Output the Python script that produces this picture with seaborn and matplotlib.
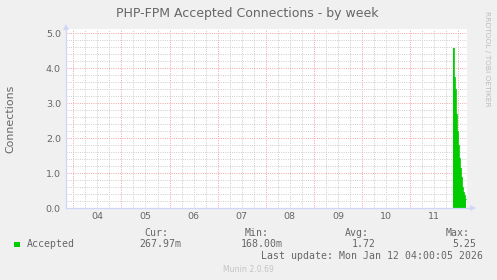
import matplotlib
matplotlib.use("Agg")
import matplotlib.pyplot as plt
import matplotlib.patches as mpatches
from matplotlib.ticker import MultipleLocator, NullFormatter
import seaborn as sns
import pandas as pd

# ---- data (hours since Mon Jan 4 00:00, 30-min samples) ----
hours = [189.5, 190.0, 190.5, 191.0, 191.5, 192.0, 192.5, 193.0, 193.5, 194.0, 194.5, 195.0, 195.5, 196.0]
accepted = [4.57, 3.75, 3.4, 2.7, 2.2, 1.8, 1.45, 1.15, 0.9, 0.62, 0.47, 0.38, 0.27, 0.27]
day_labels = ["04", "05", "06", "07", "08", "09", "10", "11"]
day_label_hours = [12, 36, 60, 84, 108, 132, 156, 180]
stat_names = ["Cur:", "Min:", "Avg:", "Max:"]
stat_values = ["267.97m", "168.00m", "1.72", "5.25"]
series_name = "Accepted"
title = "PHP-FPM Accepted Connections - by week"
ylabel = "Connections"
last_update = "Last update: Mon Jan 12 04:00:05 2026"
footer = "Munin 2.0.69"
side_text = "RRDTOOL / TOBI OETIKER"

BACK = "#F0F0F0"
FONT = "#666666"
AXIS = "#CFD6F8"
GREEN = "#00CC00"
MGRID = "#F2A4A4"
GRID = "#CDCDCD"

sns.set_style("white")
plt.rcParams["font.family"] = ["DejaVu Sans"]

W, H = 497, 280
fig = plt.figure(figsize=(W / 100, H / 100), dpi=100, facecolor=BACK)
L, R, T, B = 66, 467.3, 29.3, 208.3
ax = fig.add_axes([L / W, 1 - B / H, (R - L) / W, (B - T) / H])
ax.set_facecolor("white")

df = pd.DataFrame({"hours": hours, "accepted": accepted})
ax.fill_between(df["hours"], 0, df["accepted"], step="post", color=GREEN, linewidth=0, zorder=3)
sns.lineplot(data=df, x="hours", y="accepted", drawstyle="steps-post", color=GREEN,
             linewidth=0.6, ax=ax, zorder=3, legend=False)

ax.set_xlim(-3.64, 196.5)
ax.set_ylim(0, 5.11)
ax.set_xlabel("")
ax.set_ylabel("")

# ticks / grid
ax.xaxis.set_major_locator(MultipleLocator(24))
ax.xaxis.set_minor_locator(MultipleLocator(6))
ax.xaxis.set_major_formatter(NullFormatter())
ax.set_yticks([0, 1, 2, 3, 4, 5])
ax.yaxis.set_minor_locator(MultipleLocator(0.2))
ax.set_yticklabels(["0.0", "1.0", "2.0", "3.0", "4.0", "5.0"])
ax.tick_params(axis="both", which="major", direction="out", length=2.2, width=0.7, color=MGRID,
               labelsize=6.8, labelcolor=FONT, pad=1.5)
ax.tick_params(axis="both", which="minor", direction="out", length=1.5, width=0.7, color=GRID)
ax.grid(which="major", color=MGRID, linestyle=(0, (1, 1.3)), linewidth=0.7, zorder=1)
ax.grid(which="minor", color=GRID, linestyle=(0, (1, 1.3)), linewidth=0.7, zorder=1)
ax.set_axisbelow(True)

for s in ["top", "right"]:
    ax.spines[s].set_visible(False)
for s in ["left", "bottom"]:
    ax.spines[s].set_color(AXIS)
    ax.spines[s].set_linewidth(0.9)
    ax.spines[s].set_zorder(4)

# day labels centered at noon
sec = ax.secondary_xaxis("bottom")
sec.set_xticks(day_label_hours)
sec.set_xticklabels(day_labels)
sec.tick_params(length=0, labelsize=6.8, labelcolor=FONT, pad=3)
for sp in sec.spines.values():
    sp.set_visible(False)

# arrows
ax.plot([1.0, 1.004], [0, 0], transform=ax.transAxes, color=AXIS, lw=0.9, clip_on=False)
ax.plot([1.0135], [0], marker=">", markersize=4.2, color=AXIS, transform=ax.transAxes,
        clip_on=False, markeredgewidth=0)
ax.plot([0, 0], [1.0, 1.005], transform=ax.transAxes, color=AXIS, lw=0.9, clip_on=False)
ax.plot([0], [1.012], marker="^", markersize=4.2, color=AXIS, transform=ax.transAxes,
        clip_on=False, markeredgewidth=0)

def fx(px):
    return px / W

def fy(py):
    return 1 - py / H

fig.text(fx(247.4), fy(13), title, ha="center", va="center", fontsize=9, color=FONT)
fig.text(fx(10.8), fy(119.2), ylabel, ha="center", va="center", rotation=90, fontsize=7.9, color=FONT)
fig.text(fx(487.5), fy(59), side_text, ha="center", va="center", rotation=270, fontsize=5.4, color="#BDBDBD")

mono = "DejaVu Sans Mono"
fs = 7.15
fig.add_artist(mpatches.Rectangle((fx(14), fy(247.3)), 6 / W, 5.5 / H, transform=fig.transFigure,
                                  facecolor=GREEN, edgecolor="none"))
fig.text(fx(26.7), fy(244.3), series_name, ha="left", va="center", fontsize=fs, family=mono, color=FONT)
name_right = [168.3, 269.0, 369.3, 470.0]
val_right = [181.0, 282.3, 375.7, 476.7]
for n, v, nr, vr in zip(stat_names, stat_values, name_right, val_right):
    fig.text(fx(nr), fy(232.7), n, ha="right", va="center", fontsize=fs, family=mono, color=FONT)
    fig.text(fx(vr), fy(244.3), v, ha="right", va="center", fontsize=fs, family=mono, color=FONT)
fig.text(fx(482.7), fy(256), last_update, ha="right", va="center", fontsize=fs, family=mono, color=FONT)
fig.text(fx(248.8), fy(269.3), footer, ha="center", va="center", fontsize=5.6, color="#C4C4C4")

fig.savefig("out.png", dpi=100, facecolor=BACK)
